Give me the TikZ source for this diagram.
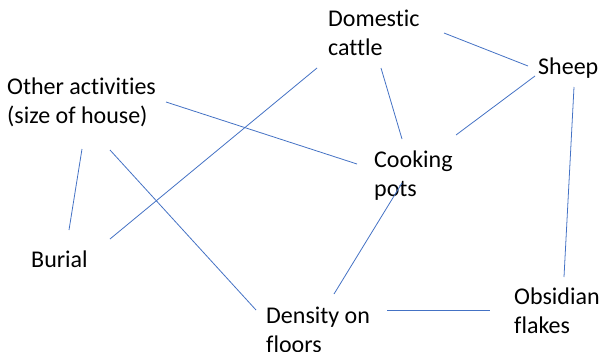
\documentclass[tikz,border=0pt]{standalone}
\usepackage{fontspec}
\setmainfont{Carlito}[Ligatures={NoCommon}]
\begin{document}
\begin{tikzpicture}[x=1pt,y=-1pt,
  label/.style={anchor=base west,inner sep=0pt,align=left,
    font=\fontsize{24}{29}\selectfont},
  link/.style={draw=linkblue,line width=0.8pt}]
\definecolor{linkblue}{HTML}{4472C4}
\useasboundingbox (0,0) rectangle (600,351);

% labels (anchored on the baseline of their last line)
\node[label] (cattle)   at (328,55)  {Domestic\\cattle};
\node[label] (sheep)    at (538,74)  {Sheep};
\node[label] (other)    at (7,123)   {Other activities\\(size of house)};
\node[label] (cooking)  at (374,196) {Cooking\\pots};
\node[label] (burial)   at (31,267)  {Burial};
\node[label] (density)  at (266,352) {Density on\\floors};
\node[label] (obsidian) at (514,333) {Obsidian\\flakes};

% connector end points
\coordinate (cattle-e)   at (444,33);
\coordinate (cattle-s)   at (381,68);
\coordinate (cattle-sw)  at (317,68);
\coordinate (sheep-w)    at (528,66);
\coordinate (sheep-sw)   at (535,76);
\coordinate (sheep-s)    at (574,87);
\coordinate (other-e)    at (166,102);
\coordinate (other-s)    at (82,149);
\coordinate (other-se)   at (110,150);
\coordinate (cooking-n)  at (402,139);
\coordinate (cooking-ne) at (456,135);
\coordinate (cooking-w)  at (357,164);
\coordinate (cooking-s)  at (402,183);
\coordinate (burial-n)   at (69,230);
\coordinate (burial-ne)  at (110,239);
\coordinate (density-nw) at (256,310);
\coordinate (density-n)  at (334,294);
\coordinate (density-e)  at (387,310);
\coordinate (obsidian-w) at (490,310);
\coordinate (obsidian-n) at (564,277);

% connectors
\draw[link] (cattle-e)   -- (sheep-w);
\draw[link] (cattle-s)   -- (cooking-n);
\draw[link] (cattle-sw)  -- (burial-ne);
\draw[link] (sheep-sw)   -- (cooking-ne);
\draw[link] (sheep-s)    -- (obsidian-n);
\draw[link] (other-e)    -- (cooking-w);
\draw[link] (other-s)    -- (burial-n);
\draw[link] (other-se)   -- (density-nw);
\draw[link] (cooking-s)  -- (density-n);
\draw[link] (density-e)  -- (obsidian-w);
\end{tikzpicture}
\end{document}
